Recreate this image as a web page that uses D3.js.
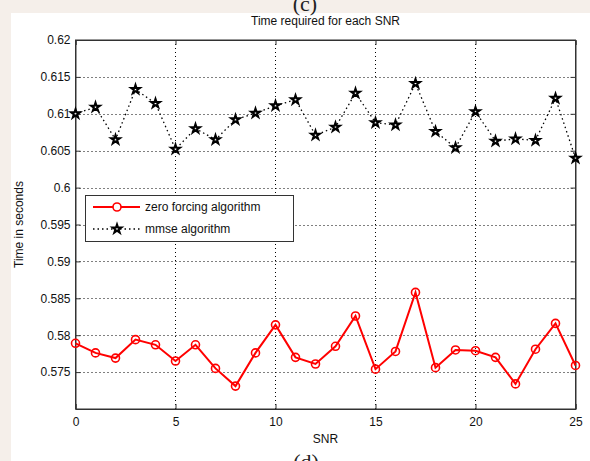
<!DOCTYPE html>
<html>
<head>
<meta charset="utf-8">
<script src="https://cdn.jsdelivr.net/npm/d3@7"></script>
<style>
html,body{margin:0;padding:0;background:#fff;}
svg{display:block;}
</style>
</head>
<body>
<svg id="chart" width="590" height="461"></svg>
<script>
const snr = d3.range(0, 26);
const zeroForcing = [0.5789,0.5776,0.5769,0.5794,0.5787,0.5765,0.5787,0.5755,0.5731,0.5776,0.5814,0.5770,0.5761,0.5785,0.5826,0.5754,0.5778,0.5858,0.5756,0.5780,0.5779,0.5770,0.5734,0.5781,0.5816,0.5759];
const mmse = [0.6100,0.6109,0.6065,0.6133,0.6114,0.6052,0.6080,0.6065,0.6092,0.6101,0.6111,0.6119,0.6071,0.6082,0.6128,0.6088,0.6085,0.6141,0.6076,0.6054,0.6103,0.6063,0.6066,0.6064,0.6121,0.6040];
const xTicks = [0,5,10,15,20,25];
const yTicks = [0.575,0.58,0.585,0.59,0.595,0.6,0.605,0.61,0.615,0.62];
const seriesNames = ["zero forcing algorithm","mmse algorithm"];

const svg = d3.select("#chart");
const font = "Liberation Sans, Arial, sans-serif";

// background paper
svg.append("rect").attr("x",0).attr("y",0).attr("width",590).attr("height",461).attr("fill","#f5efea");
svg.append("rect").attr("x",11).attr("y",13).attr("width",579).attr("height",448).attr("fill","#fff");
svg.append("text").attr("x",305).attr("y",11).attr("text-anchor","middle")
  .attr("font-family","Liberation Serif, Times New Roman, serif").attr("font-size",22).attr("fill","#222").text("(c)");
svg.append("text").attr("x",306).attr("y",469).attr("text-anchor","middle")
  .attr("font-family","Liberation Serif, Times New Roman, serif").attr("font-size",22).attr("fill","#222").text("(d)");

const L=75.5, R=575.5, T=40, B=409;
const x = d3.scaleLinear().domain([0,25]).range([L,R]);
const y = d3.scaleLinear().domain([0.57,0.62]).range([B,T]);

// grid
const g = svg.append("g");
g.selectAll(".gx").data(xTicks.filter(d=>d>0&&d<25)).enter().append("line")
  .attr("x1",d=>x(d)).attr("x2",d=>x(d)).attr("y1",T).attr("y2",B)
  .attr("stroke","#000").attr("stroke-width",1).attr("stroke-dasharray","1,3");
g.selectAll(".gy").data(yTicks.filter(d=>d<0.62)).enter().append("line")
  .attr("y1",d=>Math.round(y(d))+0.5).attr("y2",d=>Math.round(y(d))+0.5).attr("x1",L).attr("x2",R)
  .attr("stroke","#000").attr("stroke-width",1).attr("stroke-dasharray","1,3");

// axes
const fmt = d => String(+d.toFixed(3));
svg.append("g").attr("transform",`translate(0,${B})`)
  .call(d3.axisBottom(x).tickValues(xTicks).tickSize(-5).tickPadding(8).tickFormat(d3.format("d")));
svg.append("g").attr("transform",`translate(${L},0)`)
  .call(d3.axisLeft(y).tickValues(yTicks).tickSize(-5).tickPadding(5).tickFormat(fmt));
svg.append("g").attr("transform",`translate(0,${T})`)
  .call(d3.axisTop(x).tickValues(xTicks).tickSize(-5).tickFormat(""));
svg.append("g").attr("transform",`translate(${R},0)`)
  .call(d3.axisRight(y).tickValues(yTicks).tickSize(-5).tickFormat(""));
svg.selectAll(".domain").attr("stroke","#333");
svg.selectAll(".tick line").attr("stroke","#333");
svg.selectAll(".tick text").attr("font-family",font).attr("font-size",12).attr("fill","#111");

// box
svg.append("rect").attr("x",L).attr("y",T).attr("width",R-L).attr("height",B-T)
  .attr("fill","none").attr("stroke","#333").attr("stroke-width",1);

// labels
svg.append("text").attr("x",(L+R)/2).attr("y",25).attr("text-anchor","middle")
  .attr("font-family",font).attr("font-size",12).attr("fill","#111").text("Time required for each SNR");
svg.append("text").attr("x",(L+R)/2).attr("y",443).attr("text-anchor","middle")
  .attr("font-family",font).attr("font-size",12).attr("fill","#111").text("SNR");
svg.append("text").attr("transform",`translate(23,${(T+B)/2}) rotate(-90)`).attr("text-anchor","middle")
  .attr("font-family",font).attr("font-size",12).attr("fill","#111").text("Time in seconds");

// mmse series
const line = d3.line().x((d,i)=>x(snr[i])).y(d=>y(d));
svg.append("path").datum(mmse).attr("d",line).attr("fill","none")
  .attr("stroke","#000").attr("stroke-width",1.3).attr("stroke-dasharray","1.5,3");
const star = d3.symbol().type(d3.symbolStar).size(24);
svg.selectAll(".star").data(mmse).enter().append("path")
  .attr("d",star).attr("transform",(d,i)=>`translate(${x(snr[i])},${y(d)})`)
  .attr("fill","#fff").attr("stroke","#000").attr("stroke-width",2);

// zero forcing series
svg.append("path").datum(zeroForcing).attr("d",line).attr("fill","none")
  .attr("stroke","#ff0000").attr("stroke-width",2);
svg.selectAll(".circ").data(zeroForcing).enter().append("circle")
  .attr("cx",(d,i)=>x(snr[i])).attr("cy",d=>y(d)).attr("r",4)
  .attr("fill","none").attr("stroke","#ff0000").attr("stroke-width",1.6);

// legend
const lg = svg.append("g");
lg.append("rect").attr("x",85.5).attr("y",195.5).attr("width",208).attr("height",46)
  .attr("fill","#fff").attr("stroke","#333").attr("stroke-width",1);
lg.append("line").attr("x1",93).attr("x2",140).attr("y1",207).attr("y2",207)
  .attr("stroke","#ff0000").attr("stroke-width",2);
lg.append("circle").attr("cx",117).attr("cy",207).attr("r",4).attr("fill","#fff")
  .attr("stroke","#ff0000").attr("stroke-width",1.6);
lg.append("line").attr("x1",93).attr("x2",140).attr("y1",229).attr("y2",229)
  .attr("stroke","#000").attr("stroke-width",1.3).attr("stroke-dasharray","1.5,3");
lg.append("path").attr("d",star).attr("transform","translate(117,229)")
  .attr("fill","#fff").attr("stroke","#000").attr("stroke-width",2);
lg.selectAll(".lt").data(seriesNames).enter().append("text")
  .attr("x",145).attr("y",(d,i)=>211+i*22)
  .attr("font-family",font).attr("font-size",12).attr("fill","#111").text(d=>d);
</script>
</body>
</html>
